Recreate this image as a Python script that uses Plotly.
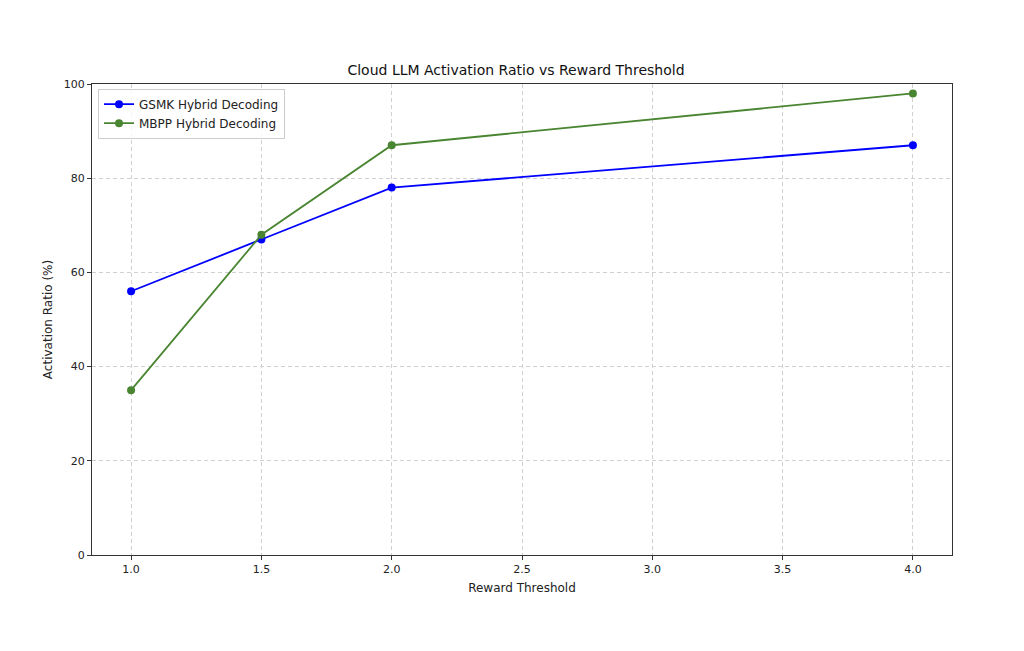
import plotly.graph_objects as go

thresholds = [1.0, 1.5, 2.0, 4.0]
gsmk_ratio = [56, 67, 78, 87]
mbpp_ratio = [35, 68, 87, 98]

W, H = 1016, 643  # page body has an 8px margin

fig = go.Figure()
fig.add_trace(go.Scatter(
    x=thresholds, y=gsmk_ratio, mode="lines+markers", name="GSMK Hybrid Decoding",
    line=dict(color="#0000ff", width=1.8), marker=dict(size=8, color="#0000ff"),
))
fig.add_trace(go.Scatter(
    x=thresholds, y=mbpp_ratio, mode="lines+markers", name="MBPP Hybrid Decoding",
    line=dict(color="#4a8532", width=1.8), marker=dict(size=8, color="#4a8532"),
))

axis_style = dict(
    showline=True, linecolor="#333333", linewidth=1, mirror=True,
    ticks="outside", ticklen=4, tickcolor="#333333",
    showgrid=True, gridcolor="#d0d0d0", griddash="4px,3px", gridwidth=1,
    zeroline=False, tickfont=dict(size=11, color="#222222"),
)

fig.update_layout(
    width=W, height=H,
    paper_bgcolor="white", plot_bgcolor="white",
    font=dict(family="DejaVu Sans", color="#222222"),
    title=dict(text="Cloud LLM Activation Ratio vs Reward Threshold",
               x=0.5, xanchor="center", y=1 - 62 / H, yanchor="middle",
               font=dict(size=14, color="#111111")),
    margin=dict(l=84, r=72, t=76, b=96),
    showlegend=True,
    legend=dict(x=0.007, y=0.99, xanchor="left", yanchor="top",
                bgcolor="rgba(255,255,255,0.8)", bordercolor="#cccccc", borderwidth=1,
                font=dict(size=12), tracegroupgap=0),
)
fig.update_xaxes(range=[0.85, 4.15], tickvals=[1.0, 1.5, 2.0, 2.5, 3.0, 3.5, 4.0],
                 ticktext=["1.0", "1.5", "2.0", "2.5", "3.0", "3.5", "4.0"],
                 title=dict(text="Reward Threshold", font=dict(size=12), standoff=8),
                 **axis_style)
fig.update_yaxes(range=[0, 100], tickvals=[0, 20, 40, 60, 80, 100],
                 title=dict(text="Activation Ratio (%)", font=dict(size=12), standoff=8),
                 **axis_style)

fig.write_html("out.html")
